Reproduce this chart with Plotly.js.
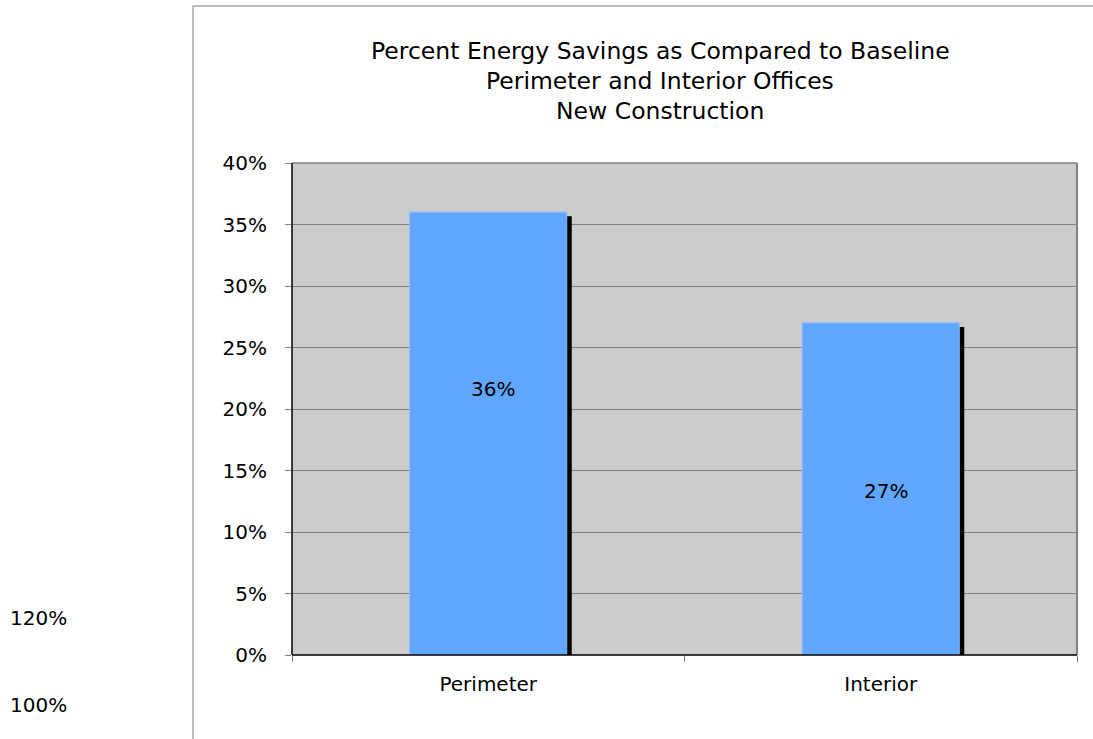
<!DOCTYPE html>
<html>
<head>
<meta charset="utf-8">
<script src="https://cdn.plot.ly/plotly-3.0.1.min.js"></script>
<style>
  html, body { margin: 0; padding: 0; background: #ffffff; }
  #chart { width: 1093px; height: 739px; }
</style>
</head>
<body>
<div id="chart"></div>
<script>
// Percent energy savings relative to baseline, by office type
const categories = ['Perimeter', 'Interior'];
const savings = [0.36, 0.27];
const valueLabels = ['36%', '27%'];
const labelHeights = [0.216, 0.133];
const titleLines = [
  'Percent Energy Savings as Compared to Baseline',
  'Perimeter and Interior Offices',
  'New Construction'
];
const sideLabels = ['120%', '100%'];

// page geometry
const W = 1093, H = 739;
const M = { l: 292, r: 16, t: 163, b: 84 };
const plotW = W - M.l - M.r, plotH = H - M.t - M.b;
const yMax = 0.4;
const barWidth = 0.4;

// drop shadow offset in pixels, converted to axis units
const shadowDxPx = 5, shadowDyPx = 4, shadowBelowPx = 3;
const pxX = categories.length / plotW;
const pxY = yMax / plotH;

const FONT = 'DejaVu Sans, Verdana, sans-serif';
const FS = 20;
const TITLE_FS = 23.5;

const shadow = {
  type: 'bar',
  x: categories,
  y: savings.map(v => v - shadowDyPx * pxY + shadowBelowPx * pxY),
  base: savings.map(() => -shadowBelowPx * pxY),
  width: barWidth,
  offset: -barWidth / 2 + shadowDxPx * pxX,
  marker: { color: '#000000', line: { width: 0 } },
  hoverinfo: 'skip',
  showlegend: false,
  cliponaxis: false
};

const bars = {
  type: 'bar',
  x: categories,
  y: savings,
  width: barWidth,
  marker: { color: '#61A6FF', line: { color: '#86BBFF', width: 1 } },
  showlegend: false
};

// title block: horizontal centre and line centres (px)
const titleCenterX = 660;
const titleCentersY = [51, 81, 111];

const annotations = [];
titleLines.forEach((t, i) => {
  annotations.push({
    text: t, xref: 'paper', yref: 'paper',
    x: (titleCenterX - M.l) / plotW, y: 1 + (M.t - titleCentersY[i]) / plotH,
    xanchor: 'center', yanchor: 'middle', showarrow: false,
    font: { family: FONT, size: TITLE_FS, color: '#000000' }
  });
});
categories.forEach((c, i) => {
  annotations.push({
    text: valueLabels[i], x: c, y: labelHeights[i], xref: 'x', yref: 'y',
    xshift: 5, showarrow: false,
    font: { family: FONT, size: FS, color: '#000000' }
  });
});
sideLabels.forEach((t, i) => {
  annotations.push({
    text: t, xref: 'paper', yref: 'paper',
    x: (8 - M.l) / plotW, y: -((618 + i * 87) - (M.t + plotH)) / plotH,
    xanchor: 'left', yanchor: 'middle', showarrow: false,
    font: { family: FONT, size: FS, color: '#000000' }
  });
});

const layout = {
  width: W, height: H,
  margin: M,
  paper_bgcolor: '#ffffff',
  plot_bgcolor: '#CCCCCC',
  barmode: 'overlay',
  showlegend: false,
  xaxis: {
    type: 'category',
    range: [-0.5, categories.length - 0.5],
    tickson: 'boundaries',
    ticks: 'outside', ticklen: 6, tickcolor: '#808080', tickwidth: 1,
    showgrid: false, zeroline: false,
    showline: false,
    tickfont: { family: FONT, size: FS, color: '#000000' },
    ticklabelstandoff: 15,
    fixedrange: true
  },
  yaxis: {
    range: [0, yMax],
    dtick: 0.05, tickformat: '.0%',
    ticks: 'outside', ticklen: 6, tickcolor: '#808080', tickwidth: 1,
    showgrid: true, gridcolor: '#808080', gridwidth: 1,
    zeroline: false, showline: false,
    tickfont: { family: FONT, size: FS, color: '#000000' },
    ticklabelstandoff: 14,
    fixedrange: true
  },
  shapes: [
    // outer chart frame
    { type: 'rect', xref: 'paper', yref: 'paper',
      x0: (193 - M.l) / plotW, x1: (W + 20 - M.l) / plotW,
      y0: -(H + 20 - M.t - plotH) / plotH, y1: 1 + (M.t - 6) / plotH,
      line: { color: '#A6A6A6', width: 1.5 }, fillcolor: 'rgba(0,0,0,0)', layer: 'below' },
    // plot area border: grey top/right, black left/bottom
    { type: 'line', xref: 'paper', yref: 'paper', x0: 0, x1: 1, y0: 1, y1: 1,
      line: { color: '#808080', width: 1.5 } },
    { type: 'line', xref: 'paper', yref: 'paper', x0: 1, x1: 1, y0: 0, y1: 1,
      line: { color: '#808080', width: 2 } },
    { type: 'line', xref: 'paper', yref: 'paper', x0: 0, x1: 0, y0: 0, y1: 1,
      line: { color: '#000000', width: 1.5 } },
    { type: 'line', xref: 'paper', yref: 'paper', x0: 0, x1: 1, y0: 0, y1: 0,
      line: { color: '#000000', width: 1.5 } }
  ],
  annotations: annotations
};

Plotly.newPlot('chart', [shadow, bars], layout, { displayModeBar: false, staticPlot: true });
</script>
</body>
</html>
